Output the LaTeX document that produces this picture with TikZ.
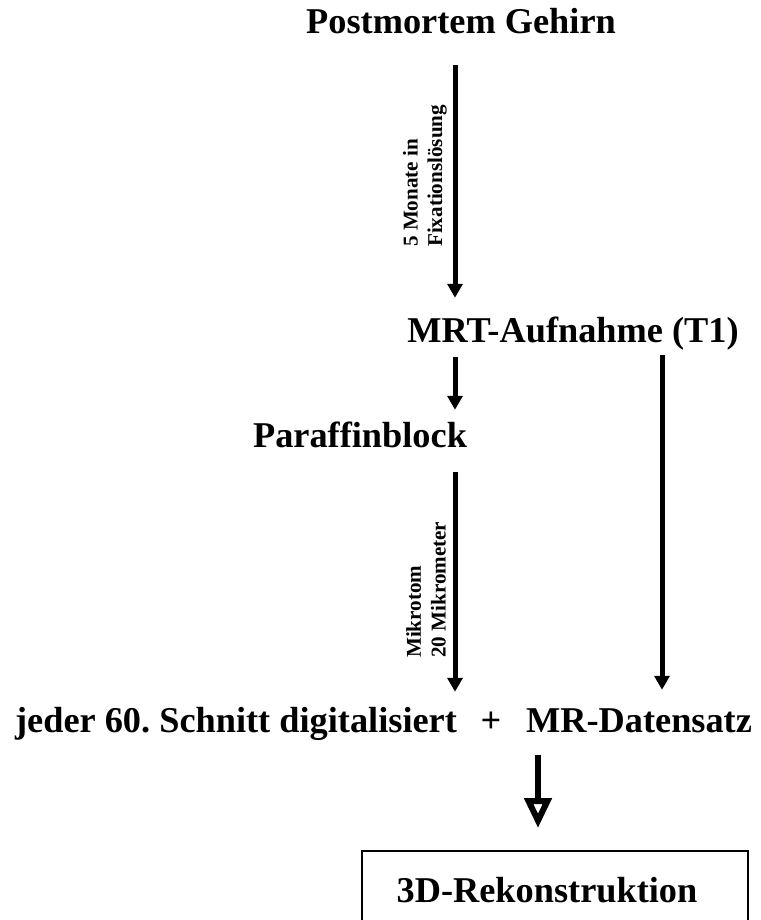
\documentclass[tikz,border=0pt]{standalone}
\usepackage{fontspec}
\setmainfont{Liberation Serif}
\usepackage{tikz}
\usetikzlibrary{arrows.meta,calc}
\tikzstyle{title}=[inner sep=0pt, anchor=base, font=\bfseries\fontsize{31}{37}\selectfont, text height=20.5pt, text depth=6.8pt]
\tikzstyle{remark}=[inner sep=0pt, rotate=90, anchor=south west, align=left, font=\bfseries\fontsize{18}{21}\selectfont]
\tikzstyle{flow}=[line width=0.15cm, -{Triangle[length=0.42cm,width=0.45cm]}]
\tikzstyle{result}=[line width=0.18cm, -{Triangle[open,length=0.9cm,width=0.8cm]}]

\begin{document}
\frenchspacing
\begin{tikzpicture}[x=0.03cm, y=-0.03cm]
	\path[use as bounding box, clip] (0,0) rectangle (761,920);
	% steps
	\node[title] (post) at (461,33) {Postmortem Gehirn};
	\node[title] (mrt) at (573,342) {MRT-Aufnahme (T1)};
	\node[title] (para) at (360,447) {Paraffinblock};
	\node[title] (schnitt) at (236,732) {jeder 60. Schnitt digitalisiert};
	\node[title] (plus) at (491,732) {+};
	\node[title] (daten) at (639,732) {MR-Datensatz};
	\node[title] (rekon) at (547,902) {3D-Rekonstruktion};
	\draw[line width=0.06cm] ($(rekon.base)+(-185,-51)$) rectangle ($(rekon.base)+(201,30)$);
	% arrow columns
	\coordinate (col) at (455,0);
	\coordinate (colr) at (662,0);
	\coordinate (colb) at (538,0);
	\draw[flow] ($(col |- post.south)+(0,24)$) -- ($(col |- mrt.north)+(0,-20)$);
	\draw[flow] ($(col |- mrt.south)+(0,7)$) -- ($(col |- para.north)+(0,-13)$);
	\draw[flow] ($(col |- para.south)+(0,17)$) -- ($(col |- schnitt.north)+(0,-16)$);
	\draw[flow] ($(colr |- mrt.south)+(0,5)$) -- ($(colr |- daten.north)+(0,-18)$);
	\draw[result] ($(colb |- daten.south)+(0,15)$) -- ($(colb |- rekon.base)+(0,-74)$);
	% remarks
	\node[remark] (fix) at (447,247) {5 Monate in\\Fixationsl\"osung};
	\node[remark] (mik) at (446,658) {Mikrotom\\20 Mikrometer};
\end{tikzpicture}
\end{document}
